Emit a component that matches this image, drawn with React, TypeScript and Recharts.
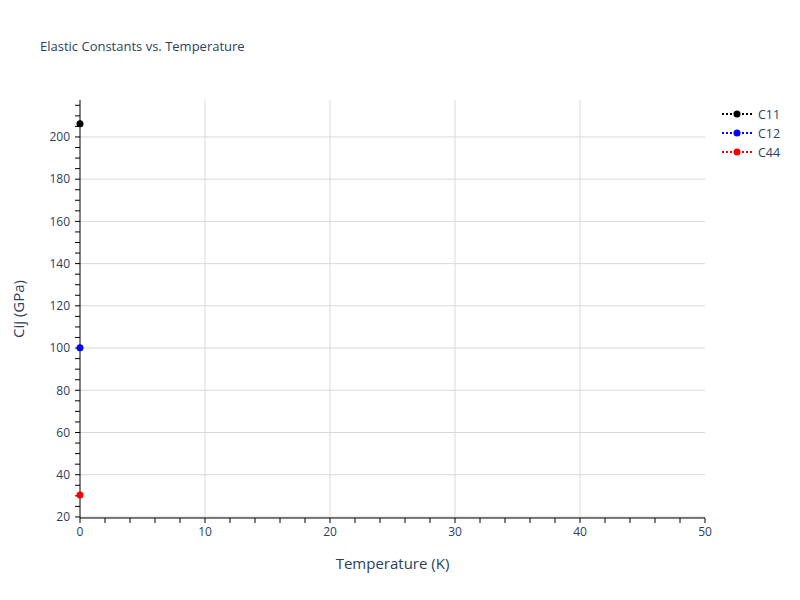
import React from "react";
import { LineChart, Line, XAxis, YAxis, ReferenceLine, Label } from "recharts";

const temperatures = [0];
const c11 = [206.2];
const c12 = [100.1];
const c44 = [30.4];

const seriesNames = ["C11", "C12", "C44"];
const seriesColors = ["#000000", "#0000ff", "#ff0000"];

const xMajorTicks = [0, 10, 20, 30, 40, 50];
const yMajorTicks = [20, 40, 60, 80, 100, 120, 140, 160, 180, 200];
const xMinorTicks = Array.from({ length: 26 }, (_, i) => i * 2);
const yMinorTicks = Array.from({ length: 40 }, (_, i) => 20 + i * 5);

const rows = temperatures.map((t, i) => ({ T: t, C11: c11[i], C12: c12[i], C44: c44[i] }));

const FONT = '"Open Sans", verdana, arial, sans-serif';
const INK = "#2a3f5f";
const GRID = "#d9d9d9";

function LegendBox() {
  return (
    <svg width={90} height={70}>
      {seriesNames.map((name, i) => {
        const y = 10 + i * 19;
        return (
          <g key={name}>
            <line x1={2} x2={32} y1={y} y2={y} stroke={seriesColors[i]} strokeWidth={2} strokeDasharray="2 2" />
            <circle cx={17} cy={y} r={3.5} fill={seriesColors[i]} />
            <text x={38} y={y + 4.5} fontSize={12.5} fontFamily={FONT} fill={INK}>{name}</text>
          </g>
        );
      })}
    </svg>
  );
}

export default function App() {
  return (
    <div style={{ position: "absolute", left: 0, top: 0, width: 800, height: 600, background: "#fff" }}>
      <div style={{ position: "absolute", left: 40, top: 37, fontFamily: FONT, fontSize: 13, color: INK }}>
        Elastic Constants vs. Temperature
      </div>
      <div style={{ position: "absolute", left: 720, top: 104 }}>
        <LegendBox />
      </div>
      <LineChart width={800} height={600} data={rows} margin={{ top: 100, right: 95, bottom: 52, left: 40 }}>
        {yMajorTicks.map((v) => (
          <ReferenceLine key={"h" + v} y={v} stroke={GRID} strokeWidth={1} />
        ))}
        {xMajorTicks.filter((v) => v > 0 && v < 50).map((v) => (
          <ReferenceLine key={"v" + v} x={v} stroke={GRID} strokeWidth={1} />
        ))}
        <XAxis
          dataKey="T"
          type="number"
          domain={[0, 50]}
          ticks={xMinorTicks}
          interval={0}
          height={30}
          stroke="#000"
          tickLine={{ stroke: "#000" }}
          tickSize={5}
          tick={{ fill: INK, fontSize: 12, fontFamily: FONT, dy: 2 }}
          tickFormatter={(v: number) => (v % 10 === 0 ? String(v) : "")}
        >
          <Label value="Temperature (K)" position="bottom" offset={10} fill={INK} fontSize={15} fontFamily={FONT} />
        </XAxis>
        <YAxis
          type="number"
          domain={[19.5, 217.5]}
          allowDataOverflow
          ticks={yMinorTicks}
          interval={0}
          width={40}
          stroke="#000"
          tickLine={{ stroke: "#000" }}
          tickSize={5}
          tick={{ fill: INK, fontSize: 12, fontFamily: FONT, dx: -3 }}
          tickFormatter={(v: number) => (v % 20 === 0 ? String(v) : "")}
        >
          <Label
            content={() => (
              <text x={24} y={309} transform="rotate(-90 24 309)" textAnchor="middle" fill={INK} fontSize={15} fontFamily={FONT}>
                Cij (GPa)
              </text>
            )}
          />
        </YAxis>
        {seriesNames.map((name, i) => (
          <Line
            key={name}
            dataKey={name}
            stroke={seriesColors[i]}
            strokeWidth={2}
            strokeDasharray="2 2"
            dot={{ r: 3.5, fill: seriesColors[i], stroke: seriesColors[i], strokeWidth: 0 }}
            isAnimationActive={false}
          />
        ))}
      </LineChart>
    </div>
  );
}
